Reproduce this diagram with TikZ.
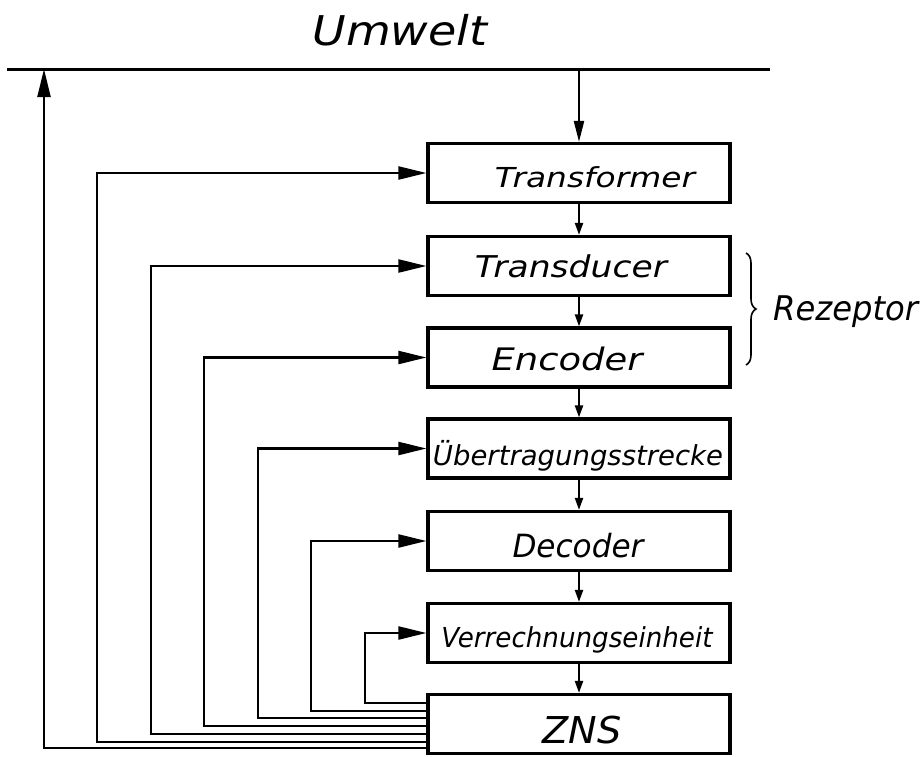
\documentclass[tikz,border=0pt]{standalone}
\usepackage{fontspec}
\setmainfont{DejaVu Sans}
\usetikzlibrary{arrows.meta,decorations.pathreplacing}
% lettering squeezed or stretched to a given width, natural height kept
\newcommand\fitlabel[3]{\resizebox{#1pt}{\height}{\fontsize{#2}{#2}\selectfont\itshape #3}}

\begin{document}
\begin{tikzpicture}[x=1pt,y=-1pt,
  blk/.style={draw, line width=3.2pt, minimum width=302pt, minimum height=59pt, inner sep=0pt},
  lbl/.style={anchor=base, inner sep=0pt},
  fb/.style={line width=2.2pt, -{Triangle[length=28pt,width=13pt]}},
  fwd/.style={line width=2.2pt, -{Triangle[length=12pt,width=8pt]}},
  envline/.style={line width=3pt},
  ]
\useasboundingbox (0,0) rectangle (922,756);

% environment line
\coordinate (envL) at (7,69);
\coordinate (envR) at (770,69);
\draw[envline] (envL) -- (envR);
\node[lbl] (umwelt) at (400,45) {\fitlabel{175}{41}{Umwelt}};

% processing chain
\node[blk] (tr)   at (579,173)   {};
\node[blk] (td)   at (579,266)   {};
\node[blk] (enc)  at (579,357.5) {};
\node[blk] (ueb)  at (579,448.5) {};
\node[blk] (dec)  at (579,541)   {};
\node[blk] (verr) at (579,633)   {};
\node[blk] (zns)  at (579,724)   {};

\node[lbl] (ltr)   at (595,187) {\fitlabel{200}{27.5}{Transformer}};
\node[lbl] (ltd)   at (571,277) {\fitlabel{192}{30}{Transducer}};
\node[lbl] (lenc)  at (567,370) {\fitlabel{151}{31}{Encoder}};
\node[lbl] (lueb)  at (578,465) {\fitlabel{290}{27.5}{Übertragungsstrecke}};
\node[lbl] (ldec)  at (578,557) {\fitlabel{131}{32}{Decoder}};
\node[lbl] (lverr) at (577,647) {\fitlabel{271}{27.5}{Verrechnungseinheit}};
\node[lbl] (lzns)  at (582,743) {\fitlabel{79}{37}{ZNS}};

% forward path
\coordinate (envOut) at (tr.north |- envL);
\draw[line width=2.2pt, -{Triangle[length=21pt,width=10pt]}] (envOut) -- (tr.north);
\draw[fwd] (tr.south)   -- (td.north);
\draw[fwd] (td.south)   -- (enc.north);
\draw[fwd] (enc.south)  -- (ueb.north);
\draw[fwd] (ueb.south)  -- (dec.north);
\draw[fwd] (dec.south)  -- (verr.north);
\draw[fwd] (verr.south) -- (zns.north);

% feedback from the ZNS
\coordinate (p6) at (zns.west |- 0,703);
\coordinate (p5) at (zns.west |- 0,711);
\coordinate (p4) at (zns.west |- 0,718);
\coordinate (p3) at (zns.west |- 0,726);
\coordinate (p2) at (zns.west |- 0,734);
\coordinate (p1) at (zns.west |- 0,742);
\coordinate (p0) at (zns.west |- 0,748);

\draw[fb] (p6) -- (365,703) |- (verr.west);
\draw[fb] (p5) -- (311,711) |- (dec.west);
\draw[fb] (p4) -- (258,718) |- (ueb.west);
\draw[fb] (p3) -- (204,726) |- (enc.west);
\draw[fb] (p2) -- (151,734) |- (td.west);
\draw[fb] (p1) -- (97,742)  |- (tr.west);
\coordinate (envIn) at (44,69);
\draw[fb] (p0) -- (44,748) -- (envIn);

% receptor brace
\draw[line width=1.6pt, decorate, decoration={brace, amplitude=10pt}] (746,253) -- (746,365);
\node[lbl, anchor=base west] (rez) at (773,320) {\fitlabel{145}{34}{Rezeptor}};
\end{tikzpicture}
\end{document}
